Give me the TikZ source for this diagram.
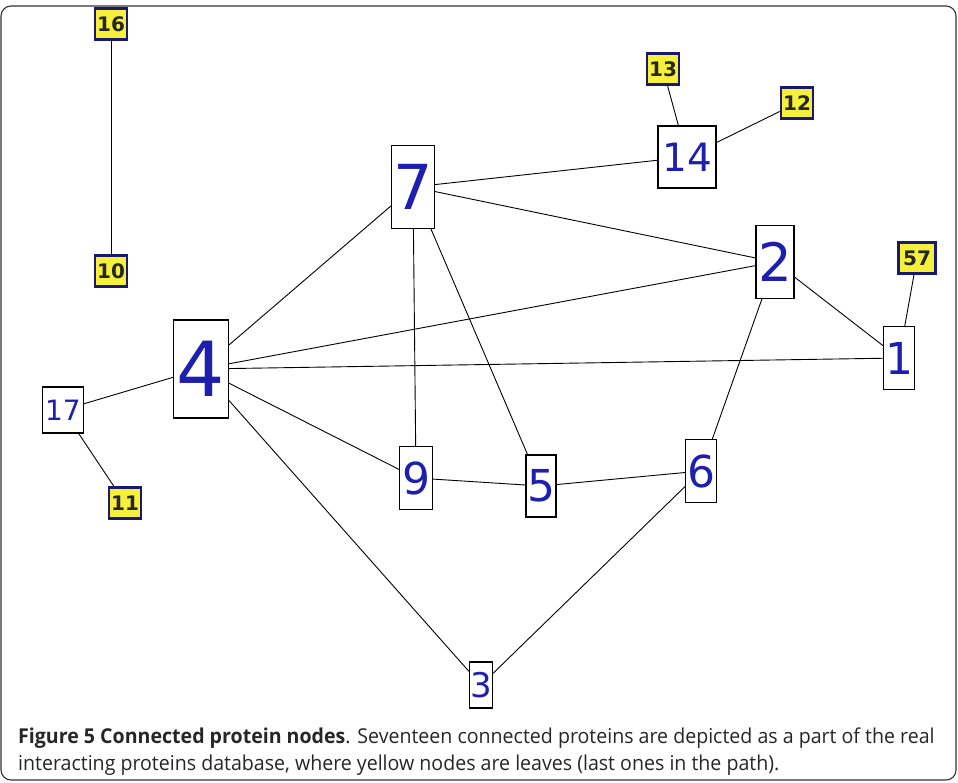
\documentclass[tikz,border=0pt]{standalone}
\usepackage{fontspec}
\setmainfont[FakeStretch=0.955]{Open Sans}
\newfontfamily\numfont{DejaVu Sans}
\definecolor{numblue}{RGB}{30,30,175}
\definecolor{leafyellow}{RGB}{245,240,60}
\definecolor{leafborder}{RGB}{25,25,110}
\begin{document}
\begin{tikzpicture}[x=1pt,y=-1pt,
  pbox/.style={draw=black,line width=1.2pt,fill=white,inner sep=0pt,text=numblue},
  leaf/.style={draw=leafborder,line width=2.6pt,fill=leafyellow,inner sep=0pt,
     minimum width=32pt,minimum height=31pt,font=\numfont\bfseries\fontsize{20}{20}\selectfont,text=black!85},
  edge/.style={line width=0.9pt,black}]
\useasboundingbox (0,0) rectangle (958,782);
\draw[line width=1.1pt,black!80,rounded corners=10pt] (1,6) rectangle (956,780);
% leaves
\node[leaf] (n16) at (111,24) {16};
\node[leaf] (n10) at (111,271) {10};
\node[leaf] (n11) at (125,503) {11};
\node[leaf] (n13) at (663,69) {13};
\node[leaf] (n12) at (797,103) {12};
\node[leaf,minimum width=37pt] (n57) at (917,258) {57};
% protein nodes
\node[pbox,minimum width=41pt,minimum height=46pt,font=\numfont\fontsize{28}{28}\selectfont] (n17) at (63,410) {17};
\node[pbox,minimum width=55pt,minimum height=98pt,font=\numfont\fontsize{76}{76}\selectfont] (n4) at (201,369) {4};
\node[pbox,minimum width=43pt,minimum height=83pt,font=\numfont\fontsize{62}{62}\selectfont] (n7) at (413,187) {7};
\node[pbox,minimum width=58pt,minimum height=62pt,font=\numfont\fontsize{39}{39}\selectfont] (n14) at (687,157) {14};
\node[pbox,minimum width=38pt,minimum height=73pt,font=\numfont\fontsize{53}{53}\selectfont] (n2) at (775,262) {2};
\node[pbox,minimum width=31pt,minimum height=63pt,font=\numfont\fontsize{44}{44}\selectfont] (n1) at (899,358) {1};
\node[pbox,minimum width=33pt,minimum height=63pt,font=\numfont\fontsize{44}{44}\selectfont] (n9) at (416,478) {9};
\node[pbox,minimum width=30pt,minimum height=62pt,font=\numfont\fontsize{44}{44}\selectfont] (n5) at (541,486) {5};
\node[pbox,minimum width=31pt,minimum height=63pt,font=\numfont\fontsize{44}{44}\selectfont] (n6) at (701,471) {6};
\node[pbox,minimum width=23pt,minimum height=46pt,font=\numfont\fontsize{34}{34}\selectfont] (n3) at (481,685) {3};
% edges
\draw[edge] (n16) -- (n10);
\draw[edge] (n17) -- (n4);
\draw[edge] (n17) -- (n11);
\draw[edge] (n4) -- (n7);
\draw[edge] (n4) -- (n2);
\draw[edge] (n4) -- (n1);
\draw[edge] (n4) -- (n9);
\draw[edge] (n4) -- (n3);
\draw[edge] (n7) -- (n14);
\draw[edge] (n7) -- (n2);
\draw[edge] (n7) -- (n9);
\draw[edge] (n7) -- (n5);
\draw[edge] (n14) -- (n13);
\draw[edge] (n14) -- (n12);
\draw[edge] (n2) -- (n1);
\draw[edge] (n2) -- (n6);
\draw[edge] (n1) -- (n57);
\draw[edge] (n9) -- (n5);
\draw[edge] (n5) -- (n6);
\draw[edge] (n6) -- (n3);
% caption
\node[anchor=base west,inner sep=0pt,font=\fontsize{20.5}{27}\selectfont,text=black!85] (cap1) at (18,743)
  {\textbf{Figure 5 Connected protein nodes}. Seventeen connected proteins are depicted as a part of the real};
\node[anchor=base west,inner sep=0pt,font=\fontsize{20.5}{27}\selectfont,text=black!85] (cap2) at (18,770)
  {interacting proteins database, where yellow nodes are leaves (last ones in the path).};
\end{tikzpicture}
\end{document}
